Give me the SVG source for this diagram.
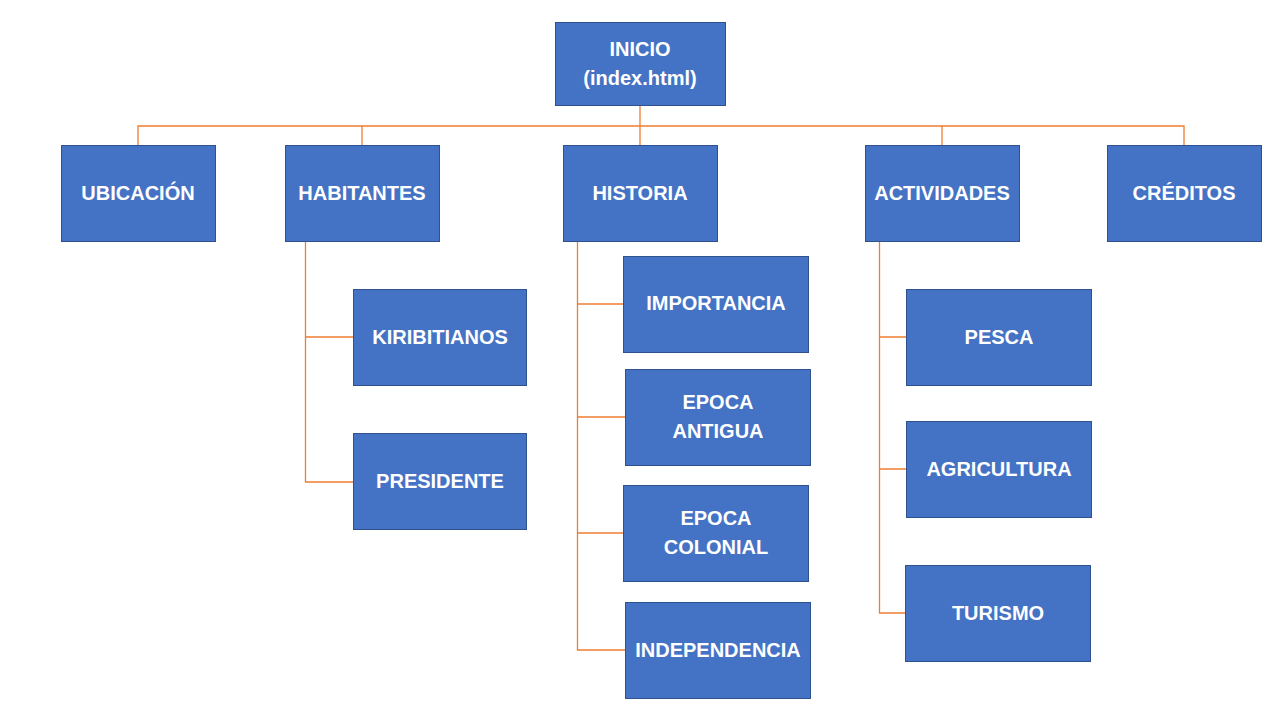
<svg xmlns="http://www.w3.org/2000/svg" width="1280" height="720" viewBox="0 0 1280 720">
<style>
.box{fill:#4472C4;stroke:#2F528F;stroke-width:1}
.lbl{fill:#FFFFFF;font-family:"Liberation Sans",Arial,sans-serif;font-weight:bold;font-size:20px;text-anchor:middle}
.con{stroke:#ED7D31;stroke-width:1.3;fill:none}
</style>
<rect width="1280" height="720" fill="#FFFFFF"/>
<g id="connectors">
<path class="con" d="M640 106V145"/>
<path class="con" d="M138 145V126H1184V145"/>
<path class="con" d="M362 126V145"/>
<path class="con" d="M942 126V145"/>
<path class="con" d="M305.5 241V482H353M305.5 337H353"/>
<path class="con" d="M577.5 241V650H625M577.5 304H623M577.5 417H625M577.5 533H623"/>
<path class="con" d="M879.5 241V613H905M879.5 337H906M879.5 469H906"/>
</g>
<g id="inicio"><rect class="box" x="555.5" y="22.5" width="170" height="83"/><text class="lbl" x="640" y="56">INICIO</text><text class="lbl" x="640" y="85">(index.html)</text></g>
<g id="ubicacion"><rect class="box" x="61.5" y="145.5" width="154" height="96"/><text class="lbl" x="138" y="200">UBICACIÓN</text></g>
<g id="habitantes"><rect class="box" x="285.5" y="145.5" width="154" height="96"/><text class="lbl" x="362" y="200">HABITANTES</text></g>
<g id="historia"><rect class="box" x="563.5" y="145.5" width="154" height="96"/><text class="lbl" x="640" y="200">HISTORIA</text></g>
<g id="actividades"><rect class="box" x="865.5" y="145.5" width="154" height="96"/><text class="lbl" x="942" y="200">ACTIVIDADES</text></g>
<g id="creditos"><rect class="box" x="1107.5" y="145.5" width="154" height="96"/><text class="lbl" x="1184" y="200">CRÉDITOS</text></g>
<g id="kiribitianos"><rect class="box" x="353.5" y="289.5" width="173" height="96"/><text class="lbl" x="440" y="344">KIRIBITIANOS</text></g>
<g id="presidente"><rect class="box" x="353.5" y="433.5" width="173" height="96"/><text class="lbl" x="440" y="488">PRESIDENTE</text></g>
<g id="importancia"><rect class="box" x="623.5" y="256.5" width="185" height="96"/><text class="lbl" x="716" y="310">IMPORTANCIA</text></g>
<g id="epoca-antigua"><rect class="box" x="625.5" y="369.5" width="185" height="96"/><text class="lbl" x="718" y="409">EPOCA</text><text class="lbl" x="718" y="438">ANTIGUA</text></g>
<g id="epoca-colonial"><rect class="box" x="623.5" y="485.5" width="185" height="96"/><text class="lbl" x="716" y="525">EPOCA</text><text class="lbl" x="716" y="554">COLONIAL</text></g>
<g id="independencia"><rect class="box" x="625.5" y="602.5" width="185" height="96"/><text class="lbl" x="718" y="657">INDEPENDENCIA</text></g>
<g id="pesca"><rect class="box" x="906.5" y="289.5" width="185" height="96"/><text class="lbl" x="999" y="344">PESCA</text></g>
<g id="agricultura"><rect class="box" x="906.5" y="421.5" width="185" height="96"/><text class="lbl" x="999" y="476">AGRICULTURA</text></g>
<g id="turismo"><rect class="box" x="905.5" y="565.5" width="185" height="96"/><text class="lbl" x="998" y="620">TURISMO</text></g>
</svg>
